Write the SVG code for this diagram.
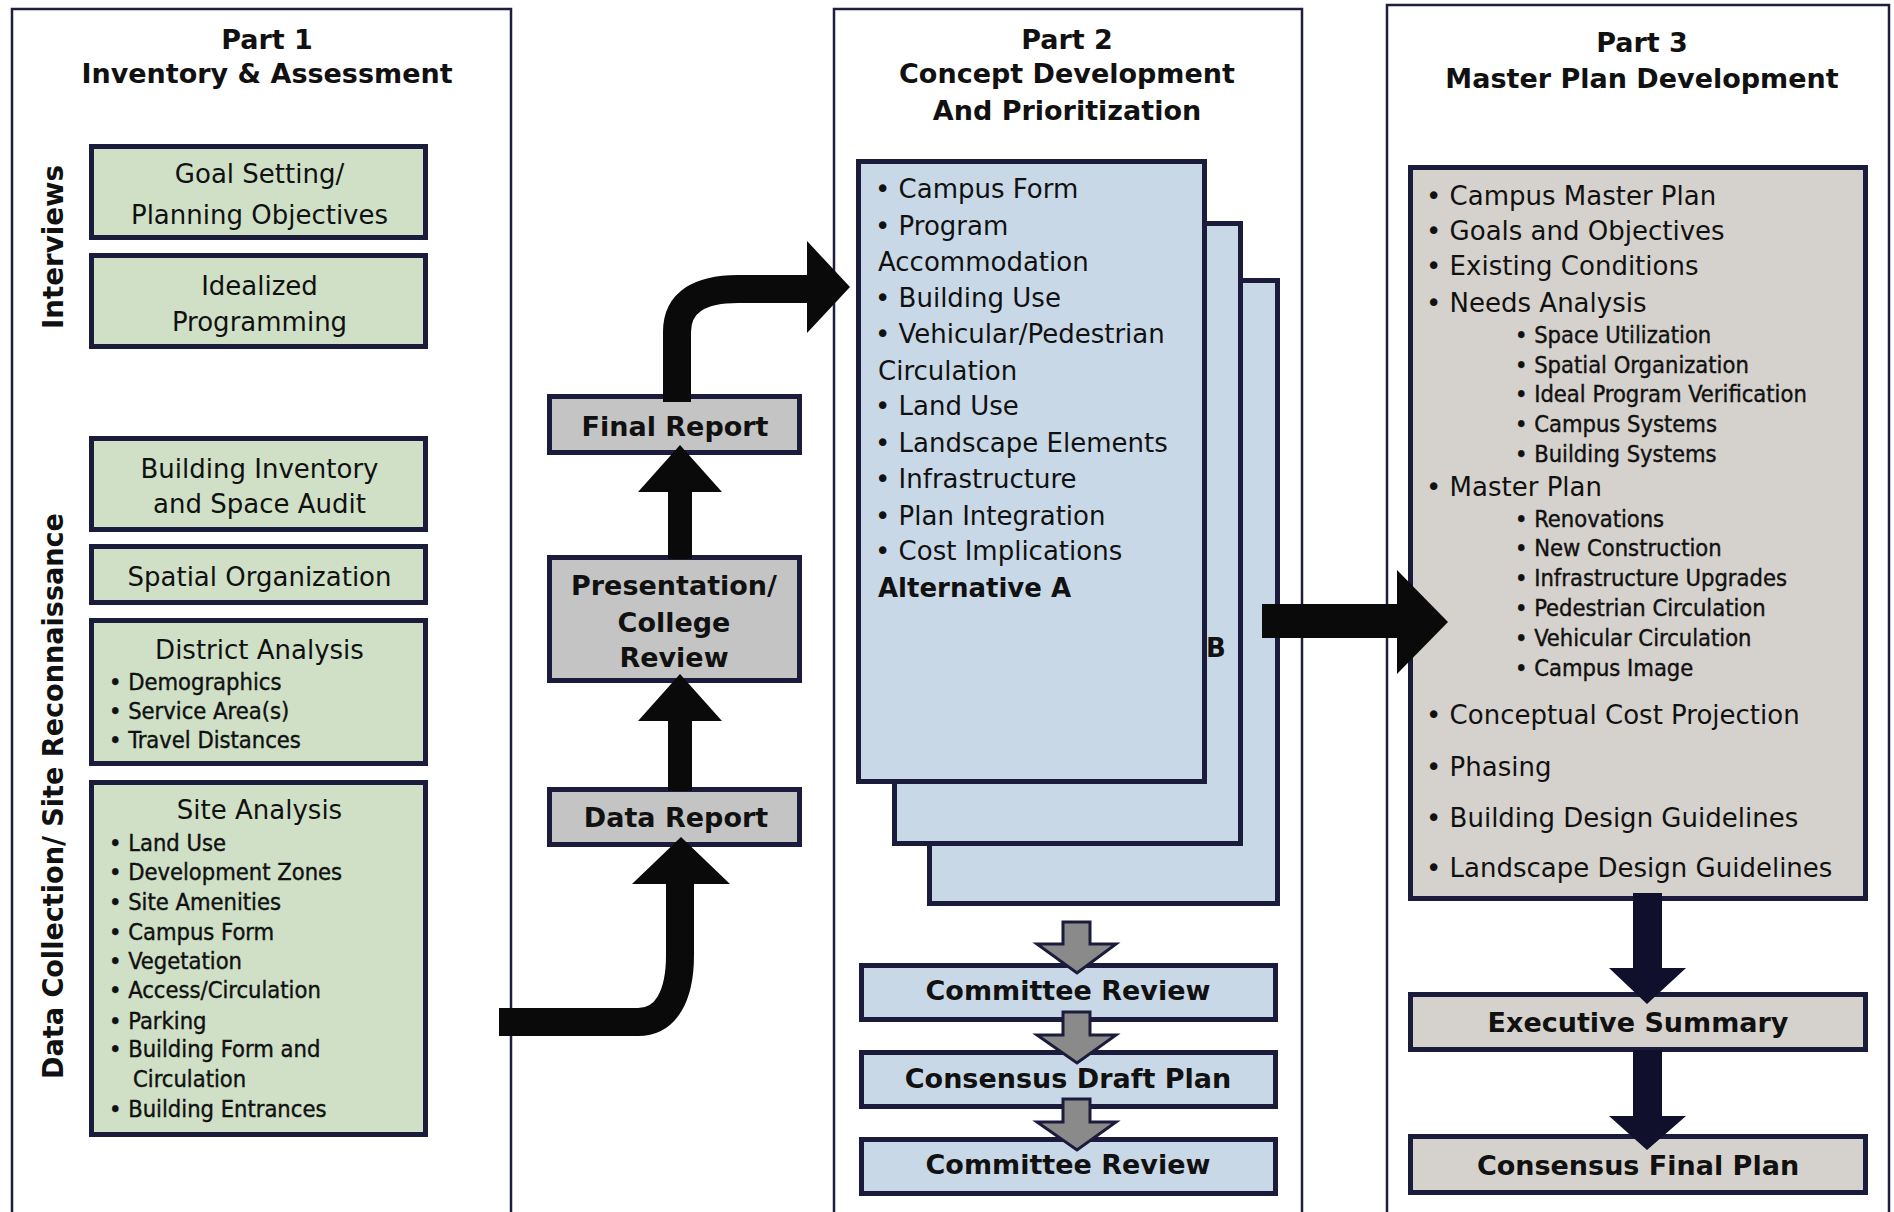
<svg xmlns="http://www.w3.org/2000/svg" width="1894" height="1212" viewBox="0 0 1894 1212">
<style>
.panel{fill:#ffffff;stroke:#1e1e3e;stroke-width:2.5}
.box{stroke:#1b1b3b;stroke-width:5}
.green{fill:#cfe0c7}
.blue{fill:#c9d8e6}
.mgray{fill:#c4c4c4}
.wgray{fill:#d5d1cc}
text{font-family:"DejaVu Sans","Liberation Sans",sans-serif;fill:#111}
.title{font-size:27px;font-weight:bold;text-anchor:middle}
.hd{font-size:26px;text-anchor:middle}
.item{font-size:26px}
.sub{font-family:"DejaVu Sans Condensed","DejaVu Sans",sans-serif;font-stretch:condensed;font-size:23.5px;stroke:#111;stroke-width:0.4}
.bold{font-size:27px;font-weight:bold;text-anchor:middle}
.vlabel{font-size:28px;font-weight:bold;text-anchor:middle}
.blk{fill:#0a0a0a}
.blkline{fill:none;stroke:#0a0a0a;stroke-width:28}
.navyarrow{fill:#10102c}
.grayarrow{fill:#8a8a8a;stroke:#1b1b3b;stroke-width:3;stroke-linejoin:miter}
</style>
<rect x="0" y="0" width="1894" height="1212" fill="#ffffff"/>

<g id="panel1">
<rect class="panel" x="12" y="9" width="499" height="1220"/>
<text class="title" x="267" y="49">Part 1</text>
<text class="title" x="267" y="83">Inventory &amp; Assessment</text>
<text class="vlabel" x="63" y="247" transform="rotate(-90 63 247)" textLength="164" lengthAdjust="spacingAndGlyphs">Interviews</text>
<text class="vlabel" x="63" y="796" transform="rotate(-90 63 796)" textLength="566" lengthAdjust="spacingAndGlyphs">Data Collection/ Site Reconnaissance</text>
</g>

<g id="panel2">
<rect class="panel" x="834" y="9" width="468" height="1220"/>
<text class="title" x="1067" y="49">Part 2</text>
<text class="title" x="1067" y="83">Concept Development</text>
<text class="title" x="1067" y="120">And Prioritization</text>
</g>

<g id="panel3">
<rect class="panel" x="1387" y="5" width="502" height="1224"/>
<text class="title" x="1642" y="52">Part 3</text>
<text class="title" x="1642" y="88">Master Plan Development</text>
</g>

<g id="goal-setting">
<rect class="box green" x="91.5" y="146.5" width="334" height="91"/>
<text class="hd" x="259.5" y="183">Goal Setting/</text>
<text class="hd" x="259.5" y="224">Planning Objectives</text>
</g>
<g id="idealized-programming">
<rect class="box green" x="91.5" y="255.5" width="334" height="91"/>
<text class="hd" x="259.5" y="295">Idealized</text>
<text class="hd" x="259.5" y="331">Programming</text>
</g>
<g id="building-inventory">
<rect class="box green" x="91.5" y="438.5" width="334" height="91"/>
<text class="hd" x="259.5" y="478">Building Inventory</text>
<text class="hd" x="259.5" y="513">and Space Audit</text>
</g>
<g id="spatial-organization">
<rect class="box green" x="91.5" y="546.5" width="334" height="56"/>
<text class="hd" x="259.5" y="586">Spatial Organization</text>
</g>
<g id="district-analysis">
<rect class="box green" x="91.5" y="620.5" width="334" height="143"/>
<text class="hd" x="259.5" y="659">District Analysis</text>
<text class="sub" x="109" y="690">• Demographics</text>
<text class="sub" x="109" y="719">• Service Area(s)</text>
<text class="sub" x="109" y="748">• Travel Distances</text>
</g>
<g id="site-analysis">
<rect class="box green" x="91.5" y="782.5" width="334" height="352"/>
<text class="hd" x="259.5" y="819">Site Analysis</text>
<text class="sub" x="109" y="851">• Land Use</text>
<text class="sub" x="109" y="880">• Development Zones</text>
<text class="sub" x="109" y="910">• Site Amenities</text>
<text class="sub" x="109" y="940">• Campus Form</text>
<text class="sub" x="109" y="969">• Vegetation</text>
<text class="sub" x="109" y="998">• Access/Circulation</text>
<text class="sub" x="109" y="1029">• Parking</text>
<text class="sub" x="109" y="1057">• Building Form and</text>
<text class="sub" x="133" y="1087">Circulation</text>
<text class="sub" x="109" y="1117">• Building Entrances</text>
</g>

<g id="final-report">
<rect class="box mgray" x="549.5" y="396.5" width="250" height="56"/>
<text class="bold" x="675" y="436">Final Report</text>
</g>
<g id="presentation-review">
<rect class="box mgray" x="549.5" y="557.5" width="250" height="123"/>
<text class="bold" x="674" y="595">Presentation/</text>
<text class="bold" x="674" y="632">College</text>
<text class="bold" x="674" y="667">Review</text>
</g>
<g id="data-report">
<rect class="box mgray" x="549.5" y="789.5" width="250" height="55"/>
<text class="bold" x="676" y="827">Data Report</text>
</g>

<g id="alternative-c">
<rect class="box blue" x="929.5" y="280.5" width="348" height="623"/>
</g>
<g id="alternative-b">
<rect class="box blue" x="894.5" y="223.5" width="346" height="620"/>
<text x="1206" y="657" style="font-size:26px;font-weight:bold">B</text>
</g>
<g id="alternative-a">
<rect class="box blue" x="858.5" y="161.5" width="346" height="620"/>
<text class="item" x="875" y="198">• Campus Form</text>
<text class="item" x="875" y="235">• Program</text>
<text class="item" x="878" y="271">Accommodation</text>
<text class="item" x="875" y="307">• Building Use</text>
<text class="item" x="875" y="343">• Vehicular/Pedestrian</text>
<text class="item" x="878" y="380">Circulation</text>
<text class="item" x="875" y="415">• Land Use</text>
<text class="item" x="875" y="452">• Landscape Elements</text>
<text class="item" x="875" y="488">• Infrastructure</text>
<text class="item" x="875" y="525">• Plan Integration</text>
<text class="item" x="875" y="560">• Cost Implications</text>
<text x="878" y="597" style="font-size:26px;font-weight:bold">Alternative A</text>
</g>

<g id="committee-review-1">
<rect class="box blue" x="861.5" y="965.5" width="414" height="54"/>
<text class="bold" x="1068" y="1000">Committee Review</text>
</g>
<g id="consensus-draft-plan">
<rect class="box blue" x="861.5" y="1052.5" width="414" height="54"/>
<text class="bold" x="1068" y="1088">Consensus Draft Plan</text>
</g>
<g id="committee-review-2">
<rect class="box blue" x="861.5" y="1139.5" width="414" height="54"/>
<text class="bold" x="1068" y="1174">Committee Review</text>
</g>

<g id="master-plan-contents">
<rect class="box wgray" x="1410.5" y="167.5" width="455" height="731"/>
<text class="item" x="1426" y="205">• Campus Master Plan</text>
<text class="item" x="1426" y="240">• Goals and Objectives</text>
<text class="item" x="1426" y="275">• Existing Conditions</text>
<text class="item" x="1426" y="312">• Needs Analysis</text>
<text class="sub" x="1515" y="343">• Space Utilization</text>
<text class="sub" x="1515" y="373">• Spatial Organization</text>
<text class="sub" x="1515" y="402">• Ideal Program Verification</text>
<text class="sub" x="1515" y="432">• Campus Systems</text>
<text class="sub" x="1515" y="462">• Building Systems</text>
<text class="item" x="1426" y="496">• Master Plan</text>
<text class="sub" x="1515" y="527">• Renovations</text>
<text class="sub" x="1515" y="556">• New Construction</text>
<text class="sub" x="1515" y="586">• Infrastructure Upgrades</text>
<text class="sub" x="1515" y="616">• Pedestrian Circulation</text>
<text class="sub" x="1515" y="646">• Vehicular Circulation</text>
<text class="sub" x="1515" y="676">• Campus Image</text>
<text class="item" x="1426" y="724">• Conceptual Cost Projection</text>
<text class="item" x="1426" y="776">• Phasing</text>
<text class="item" x="1426" y="827">• Building Design Guidelines</text>
<text class="item" x="1426" y="877">• Landscape Design Guidelines</text>
</g>
<g id="executive-summary">
<rect class="box wgray" x="1410.5" y="994.5" width="455" height="55"/>
<text class="bold" x="1638" y="1032">Executive Summary</text>
</g>
<g id="consensus-final-plan">
<rect class="box wgray" x="1410.5" y="1136.5" width="455" height="56"/>
<text class="bold" x="1638" y="1175">Consensus Final Plan</text>
</g>

<g id="connectors">
<path class="blkline" d="M499,1022 H638 C666,1022 680,996 680,955 V882"/>
<polygon class="blk" points="632,884 730,884 681,837"/>
<rect class="blk" x="668" y="719" width="24" height="72"/>
<polygon class="blk" points="638,721 722,721 680,674"/>
<rect class="blk" x="668" y="490" width="24" height="69"/>
<polygon class="blk" points="638,492 722,492 680,445"/>
<path class="blkline" d="M677,402 V332 C677,302 700,289 738,289 H810"/>
<polygon class="blk" points="807,241 850,287 807,333"/>
<rect class="blk" x="1262" y="604" width="137" height="34"/>
<polygon class="blk" points="1397,570 1448,622 1397,674"/>
<polygon class="grayarrow" points="1063,922 1090,922 1090,944 1116,944 1077,973 1037,944 1063,944"/>
<polygon class="grayarrow" points="1063,1012 1090,1012 1090,1035 1116,1035 1077,1063 1037,1035 1063,1035"/>
<polygon class="grayarrow" points="1063,1099 1090,1099 1090,1122 1116,1122 1077,1150 1037,1122 1063,1122"/>
<polygon class="navyarrow" points="1633,893 1662,893 1662,968 1686,968 1647,1004 1609,968 1633,968"/>
<polygon class="navyarrow" points="1633,1050 1662,1050 1662,1116 1686,1116 1647,1150 1609,1116 1633,1116"/>
</g>
</svg>
